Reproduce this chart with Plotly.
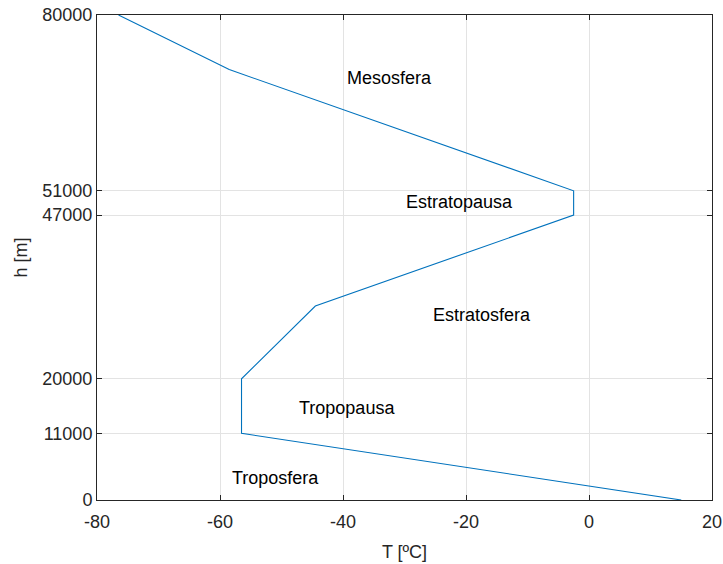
import plotly.graph_objects as go

h = [0, 11000, 20000, 32000, 47000, 51000, 71000, 80000]
T = [15, -56.5, -56.5, -44.5, -2.5, -2.5, -58.5, -76.5]

x_ticks = [-80, -60, -40, -20, 0, 20]
y_ticks = [0, 11000, 20000, 47000, 51000, 80000]

labels = ["Mesosfera", "Estratopausa", "Estratosfera", "Tropopausa", "Troposfera"]
label_T = [-32.4, -21.0, -17.4, -39.3, -51.0]
label_h = [69600, 49150, 30500, 15170, 3630]

FONT = "Liberation Sans, Arial"

fig = go.Figure()
fig.add_trace(go.Scatter(x=T, y=h, mode="lines",
                         line=dict(color="#0072BD", width=1.1),
                         showlegend=False, hoverinfo="skip"))
for t, x, y in zip(labels, label_T, label_h):
    fig.add_annotation(x=x, y=y, text=t, showarrow=False,
                       font=dict(family=FONT, size=18, color="#000000"))

axis_common = dict(showline=True, linecolor="#262626", linewidth=1, mirror="ticks",
                   ticks="inside", ticklen=5, tickcolor="#262626",
                   showgrid=True, gridcolor="#e3e3e3", gridwidth=1,
                   zeroline=False, automargin=False,
                   tickfont=dict(family=FONT, size=18, color="#262626"),
                   title_font=dict(family=FONT, size=18, color="#262626"))

fig.update_layout(
    width=723, height=564,
    margin=dict(l=97, r=11, t=15, b=64),
    paper_bgcolor="white", plot_bgcolor="white",
    xaxis=dict(range=[-80, 20], tickvals=x_ticks, ticktext=[str(v) for v in x_ticks],
               ticklabelstandoff=5,
               title=dict(text="T [ºC]", standoff=14), **axis_common),
    yaxis=dict(range=[0, 80000], tickvals=y_ticks, ticktext=[str(v) for v in y_ticks],
               title=dict(text="h [m]", standoff=10), **axis_common),
)
fig.write_html("out.html")
